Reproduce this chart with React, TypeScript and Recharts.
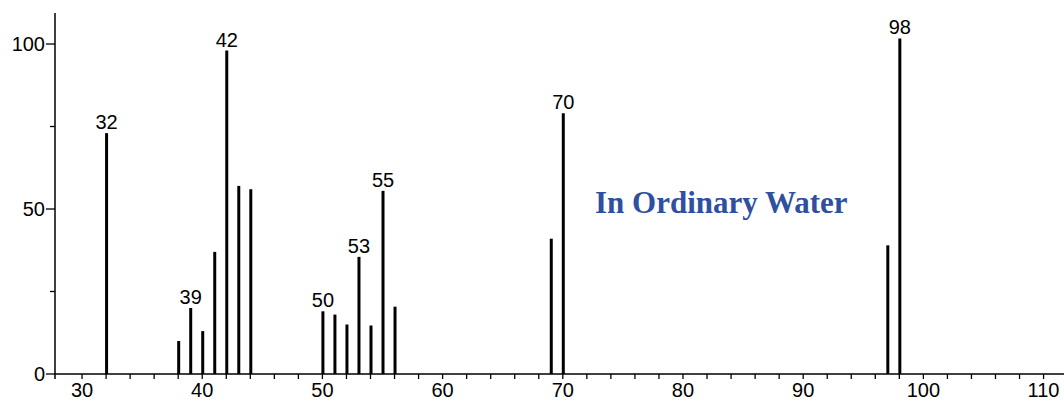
import { BarChart, Bar, XAxis, YAxis, LabelList } from "recharts";

// m/z positions and relative intensities
const massValues = [32, 38, 39, 40, 41, 42, 43, 44, 50, 51, 52, 53, 54, 55, 56, 69, 70, 97, 98];
const intensities = [73, 10, 20, 13, 37, 98, 57, 56, 19, 18, 15, 35.5, 14.7, 55.5, 20.4, 41, 79, 39, 101.7];
const labeledPeaks = [32, 39, 42, 50, 53, 55, 70, 98];

const xTicks = [30, 32, 34, 36, 38, 40, 42, 44, 46, 48, 50, 52, 54, 56, 58, 60, 62, 64, 66, 68, 70, 72, 74, 76, 78, 80, 82, 84, 86, 88, 90, 92, 94, 96, 98, 100, 102, 104, 106, 108, 110];
const yTicks = [0, 25, 50, 75, 100];
const yLabeled = [0, 50, 100];

const data = massValues.map((m, i) => ({
  mz: m,
  intensity: intensities[i],
  label: labeledPeaks.includes(m) ? String(m) : "",
}));

const FONT = "'Liberation Sans', Arial, sans-serif";

function XTick(props: any) {
  const { x, y, payload } = props;
  const v = payload.value;
  return (
    <g>
      <line x1={x} y1={y} x2={x} y2={y + 5} stroke="#000" strokeWidth={1.3} />
      {v % 10 === 0 && (
        <text x={x} y={y + 23} textAnchor="middle" fontSize={20} fontFamily={FONT} fill="#000">
          {v}
        </text>
      )}
    </g>
  );
}

function YTick(props: any) {
  const { x, y, payload } = props;
  const v = payload.value;
  const major = yLabeled.includes(v);
  const len = major ? 9 : 5;
  return (
    <g>
      <line x1={x - len} y1={y} x2={x} y2={y} stroke="#000" strokeWidth={1.3} />
      {v === 0 && <line x1={x} y1={y} x2={x} y2={y + 5} stroke="#000" strokeWidth={1.5} />}
      {major && (
        <text x={x - 10} y={y + 7} textAnchor="end" fontSize={20} fontFamily={FONT} fill="#000">
          {v}
        </text>
      )}
    </g>
  );
}

export default function App() {
  return (
    <div style={{ position: "fixed", left: 0, top: 0, width: 1064, height: 405, background: "#fff" }}>
      <BarChart
        width={1064}
        height={405}
        data={data}
        margin={{ top: 13, right: 0, bottom: 0, left: 0 }}
        barSize={3}
      >
        <XAxis
          dataKey="mz"
          type="number"
          domain={[27.75, 111.7]}
          ticks={xTicks}
          interval={0}
          height={31}
          tickSize={0}
          tickMargin={0}
          tickLine={false}
          tick={<XTick />}
          axisLine={{ stroke: "#000", strokeWidth: 1.5 }}
          allowDataOverflow
        />
        <YAxis
          type="number"
          domain={[0, 109.4]}
          ticks={yTicks}
          interval={0}
          width={55}
          tickSize={0}
          tickMargin={0}
          tickLine={false}
          tick={<YTick />}
          axisLine={{ stroke: "#000", strokeWidth: 1.5 }}
          allowDataOverflow
        />
        <Bar dataKey="intensity" fill="#000" isAnimationActive={false}>
          <LabelList
            dataKey="label"
            position="top"
            offset={4}
            style={{ fontSize: 20, fontFamily: FONT, fill: "#000" }}
          />
        </Bar>
      </BarChart>
      <svg width={1064} height={405} style={{ position: "absolute", left: 0, top: 0, pointerEvents: "none" }}>
        <text
          x={595}
          y={213}
          fontSize={31}
          fontWeight="bold"
          fontFamily="'Liberation Serif', 'Times New Roman', serif"
          fill="#2f4f9f"
        >
          In Ordinary Water
        </text>
      </svg>
    </div>
  );
}
